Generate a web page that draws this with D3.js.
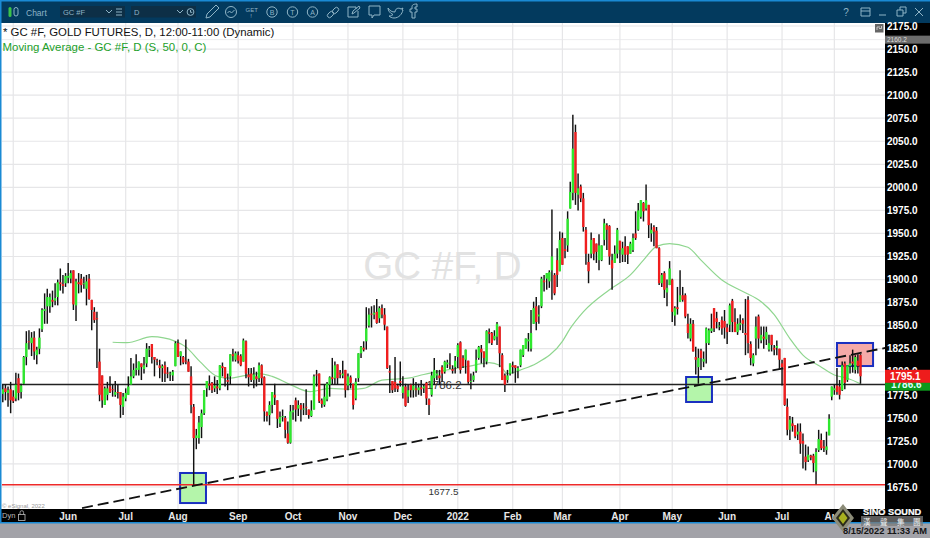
<!DOCTYPE html>
<html><head><meta charset="utf-8">
<script src="https://cdnjs.cloudflare.com/ajax/libs/d3/7.8.5/d3.min.js"></script>
<style>html,body{margin:0;padding:0;background:#fff}svg{display:block;font-family:"Liberation Sans",Arial,sans-serif}</style>
</head><body><svg id="c" width="930" height="538"></svg>
<script>
// Daily bars as [open, high, low, close]
const barsSpring2021 = [
[1776,1786,1767,1781],[1782,1786,1769,1778],[1777,1784,1762,1780],[1781,1789,1755,1769],[1773,1780,1766,1768],
[1771,1799,1768,1786],[1793,1798,1769,1777],[1778,1787,1771,1785],[1787,1817,1786,1816],[1816,1844,1807,1831],
[1833,1845,1824,1832],[1831,1843,1817,1837],[1837,1844,1813,1822],[1818,1827,1808,1824],[1825,1847,1819,1837],
[1846,1869,1843,1867],[1866,1885,1852,1868],[1871,1890,1852,1881],[1871,1885,1864,1881],[1878,1888,1870,1876],
[1877,1896,1872,1880],[1881,1900,1872,1897],[1897,1912,1888,1895],[1895,1905,1885,1893],[1896,1907,1892,1904],
[1902,1918,1896,1904],[1901,1910,1896,1907],[1910,1910,1867,1873],[1872,1901,1855,1898],[1897,1907,1885,1895],
[1901,1906,1886,1894],[1895,1903,1890,1896],[1890,1905,1872,1898],[1901,1906,1878,1879],[1878,1878,1845,1867],
[1865,1870,1853,1856],[1858,1865,1804,1857]];
const barsSummer2021 = [
[1811,1825,1768,1775],[1796,1796,1761,1769],[1764,1784,1764,1782],[1775,1789,1769,1782],[1784,1795,1777,1778],
[1781,1786,1773,1780],[1775,1790,1773,1778],[1778,1786,1771,1777],[1778,1778,1750,1764],[1762,1777,1753,1773],
[1771,1782,1768,1777],[1775,1795,1775,1784],[1786,1815,1786,1795],[1795,1809,1793,1802],[1802,1819,1796,1804],
[1802,1811,1796,1811],[1809,1809,1791,1805],[1803,1816,1798,1807],[1809,1831,1805,1825],[1824,1828,1816,1825],
[1830,1830,1809,1816],[1816,1816,1795,1813],[1812,1814,1807,1811],[1807,1813,1793,1804],[1804,1808,1789,1806],
[1807,1811,1789,1798],[1799,1805,1793,1798],[1797,1800,1790,1798],[1796,1802,1790,1800],[1806,1833,1806,1831],
[1831,1835,1816,1816],[1817,1822,1807,1822],[1816,1817,1808,1810],[1812,1835,1808,1811],[1811,1814,1800,1800],
[1795,1806,1755,1764],[1762,1765,1677.5,1728],[1728,1738,1716,1731],[1728,1752,1722,1745],[1740,1759,1728,1755],
[1755,1780,1753,1780],[1782,1790,1773,1790],[1787,1796,1780,1785],[1788,1789,1777,1780],[1782,1795,1778,1785],
[1784,1791,1776,1782],[1782,1807,1780,1807],[1806,1810,1795,1804],[1805,1805,1784,1793],[1791,1798,1780,1789],
[1795,1819,1786,1819],[1819,1825,1811,1817],[1813,1822,1811,1820],[1818,1822,1809,1812],[1817,1819,1806,1807]];
const barsAutumn2021 = [
[1811,1836,1811,1834],[1833,1834,1793,1798],[1797,1804,1784,1794],[1798,1804,1789,1791],[1791,1805,1782,1797],
[1795,1800,1784,1792],[1793,1810,1789,1807],[1807,1808,1786,1793],[1794,1795,1746,1757],[1756,1757,1746,1752],
[1753,1768,1742,1764],[1764,1778,1755,1778],[1775,1787,1764,1772],[1769,1769,1739,1749],[1744,1757,1740,1751],
[1751,1759,1746,1752],[1750,1752,1728,1737],[1733,1746,1722,1723],[1723,1764,1722,1757],[1756,1764,1748,1758],
[1769,1772,1746,1759],[1760,1769,1752,1764],[1764,1766,1746,1759],[1759,1766,1753,1760],[1762,1781,1753,1761],
[1759,1759,1749,1753],[1752,1769,1751,1758],[1759,1797,1759,1795],[1797,1802,1784,1796],[1798,1798,1766,1768],
[1769,1771,1761,1765],[1764,1786,1762,1773],[1770,1789,1768,1787],[1786,1795,1773,1794],[1794,1815,1786,1792],
[1793,1811,1786,1807],[1808,1808,1786,1793],[1799,1802,1793,1797],[1796,1812,1793,1798],[1802,1802,1772,1780],
[1785,1798,1780,1795],[1794,1796,1782,1788],[1787,1787,1759,1764],[1771,1793,1769,1789],[1793,1820,1789,1820],
[1820,1828,1815,1827],[1826,1833,1822,1824],[1833,1870,1824,1847],[1850,1869,1848,1862],[1863,1871,1848,1862],
[1862,1872,1857,1864],[1865,1879,1852,1853],[1858,1871,1853,1869],[1869,1873,1858,1862],[1862,1869,1845,1851]];
const barsWinter2021 = [
[1849,1849,1803,1804],[1801,1807,1777,1799],[1790,1790,1777,1780],[1789,1816,1778,1782],[1785,1787,1778,1781],
[1790,1811,1784,1788],[1777,1795,1771,1784],[1784,1787,1762,1763],[1773,1786,1766,1780],[1786,1787,1772,1780],
[1780,1793,1772,1785],[1782,1789,1773,1780],[1780,1787,1775,1783],[1783,1791,1774,1781],[1782,1786,1777,1784],
[1788,1789,1764,1771],[1770,1771,1753,1764],[1775,1800,1773,1796],[1793,1815,1786,1802],[1796,1802,1791,1798],
[1796,1802,1786,1793],[1805,1807,1789,1798],[1800,1812,1798,1811],[1808,1813,1804,1810],[1807,1820,1803,1806],
[1803,1807,1798,1801],[1805,1817,1798,1812],[1816,1831,1804,1829],[1832,1833,1798,1802],[1815,1818,1804,1806],
[1813,1824,1798,1824],[1812,1812,1787,1789],[1789,1798,1781,1790],[1791,1800,1789,1796],[1801,1824,1799,1813],
[1815,1828,1813,1827]];
const barsEarly2022 = [
[1825,1829,1809,1821],[1822,1822,1805,1815],[1811,1845,1808,1844],[1843,1847,1831,1841],[1842,1843,1829,1831],
[1835,1845,1834,1839],[1838,1854,1829,1852],[1849,1849,1805,1820],[1818,1820,1791,1791],[1796,1798,1778,1786],
[1791,1802,1788,1796],[1798,1809,1796,1809],[1807,1811,1798,1805],[1807,1807,1788,1804],[1801,1806,1793,1804],
[1807,1824,1805,1824],[1818,1829,1816,1829],[1825,1836,1825,1836],[1833,1842,1822,1835],[1825,1867,1822,1842],
[1852,1876,1852,1869],[1871,1881,1845,1854],[1860,1872,1852,1862],[1871,1903,1869,1901],[1899,1905,1887,1897],
[1901,1907,1889,1907],[1898,1910,1891,1908],[1910,1976,1878,1925],[1905,1907,1883,1885],[1921,1934,1892,1905],
[1909,1952,1909,1943],[1945,1951,1916,1916],[1933,1945,1923,1931],[1937,1974,1930,1966],[1977,2006,1977,1995],
[1994,2078.8,1986,2042],[2060,2068,1981,1994],[1992,2015,1975,1999],[2001,2003,1984,1988],[1988,1994,1952,1957],
[1954,1957,1916,1928],[1919,1928,1896,1909],[1928,1951,1923,1943],[1945,1945,1921,1928],[1939,1939,1918,1930],
[1921,1949,1910,1937],[1921,1937,1920,1937],[1943,1966,1937,1961],[1959,1961,1932,1954],[1958,1959,1916,1925],
[1921,1928,1889,1912],[1918,1937,1918,1928],[1928,1956,1923,1954],[1942,1942,1918,1932],[1927,1941,1919,1934],
[1936,1947,1919,1927],[1936,1936,1917,1927],[1928,1941,1928,1939],[1932,1950,1930,1945],[1950,1974,1943,1945],
[1954,1983,1953,1975],[1968,1986,1966,1986],[1983,1984,1963,1974],[1977,2003,1975,1986],[1981,1981,1945,1959],
[1950,1961,1941,1954],[1957,1959,1936,1952],[1953,1957,1934,1934],[1934,1935,1894,1896],[1896,1907,1892,1905],
[1907,1909,1880,1889],[1886,1900,1871,1891],[1894,1920,1894,1912],[1900,1901,1854,1865],[1861,1871,1850,1869],
[1870,1892,1862,1868],[1876,1910,1876,1883],[1883,1892,1876,1878],[1883,1885,1858,1860],[1852,1863,1836,1842],
[1836,1858,1833,1852],[1852,1856,1822,1822]];
const barsMid2022 = [
[1816,1827,1797,1813],[1805,1825,1787,1815],[1823,1825,1802,1815],[1811,1822,1805,1814],[1831,1848,1809,1847],
[1831,1847,1829,1845],[1844,1863,1842,1847],[1869,1869,1843,1847],[1858,1865,1847,1854],[1849,1854,1845,1850],
[1856,1860,1840,1847],[1855,1867,1836,1848],[1848,1852,1830,1843],[1851,1874,1843,1872],[1877,1879,1843,1854],
[1854,1869,1843,1843],[1843,1858,1840,1852],[1851,1862,1845,1853],[1856,1858,1842,1852],[1842,1879,1818,1840],
[1878,1882,1820,1831],[1830,1833,1807,1815],[1809,1820,1806,1818],[1836,1860,1818,1849],[1860,1862,1825,1836],
[1834,1849,1831,1840],[1838,1849,1825,1836],[1835,1849,1829,1843],[1824,1840,1822,1831],[1840,1840,1822,1829],
[1826,1829,1818,1824],[1826,1834,1818,1828],[1825,1825,1803,1813],[1809,1813,1785,1805],[1815,1815,1763,1764],
[1762,1771,1731,1737],[1737,1752,1726,1748],[1744,1751,1735,1741],[1742,1742,1728,1730],[1732,1744,1726,1735],
[1735,1744,1711,1722],[1725,1733,1695,1722],[1708,1721,1693,1702],[1704,1719,1702,1710],[1709,1710,1704,1707],
[1709,1711,1691,1701],[1692,1717,1678,1713],[1715,1737,1713,1727],[1726,1733,1715,1717],[1719,1726,1713,1717],
[1715,1735,1710,1719],[1731,1754,1731,1749]];
const barsAug2022 = [
[1773,1784,1769,1784],[1780,1786,1775,1782],[1785,1804,1775,1778],[1784,1791,1770,1775],[1780,1811,1779,1807],
[1809,1811,1781,1788],[1791,1807,1789,1807],[1806,1818,1798,1809],[1811,1824,1799,1809],[1802,1818,1798,1816],
[1812,1819,1798,1806],[1818,1819,1787,1795.1]];
const bars = [...barsSpring2021,...barsSummer2021,...barsAutumn2021,...barsWinter2021,...barsEarly2022,...barsMid2022,...barsAug2022];

// 50-day moving average, sampled where it could be read
const maBar = [42,47.5,57,66,70,75.4,82,87,91,98,103,110,117.5,125,133,138,145,155,161,170,180,186,190,193,199,204,214,217,222,232,240,245,250,255,262,267,275,283,290,295,301,306,312.5,318,323,328];
const maPrice = [1832,1831.5,1838,1833,1827,1811,1795,1793,1795,1798,1795,1786,1778.5,1782,1781,1782,1791,1793,1797,1802,1807,1810,1807,1798,1803,1809,1833,1847,1865,1889,1905,1921,1936,1939,1935,1921,1899.5,1887,1876,1862,1836,1818,1806,1796.5,1793,1787];

const monthLabels = ["Jun","Jul","Aug","Sep","Oct","Nov","Dec","2022","Feb","Mar","Apr","May","Jun","Jul","Aug"];
const monthBars   = [25,47,67,90,111,132,153,174,195,214,236,256,277,298,318];
const firstGridBar = 4;

const priceTicks = d3.range(1675,2176,25);
const supportLevel = 1786.2, floorLevel = 1677.5, lastClose = 1795.1, maLast = 1786.6, topMarker = 2160.2;
const trendBars = [30.3,337.4], trendPrices = [1652.2,1825.8];
const zones = [
 {b0:67.8,b1:77.7,p0:1690.2,p1:1657.6,fill:"#b4f5aa"},
 {b0:261.3,b1:271.2,p0:1794.3,p1:1767.2,fill:"#b4f5aa"},
 {b0:319,b1:332.8,p0:1831.2,p1:1806.2,fill:"#f6aaa8"}];

const W=930,H=538,L=2,R=885,T=23,B=509;
const svg=d3.select("#c");
const x=d3.scaleLinear().domain([0,328]).range([2.8,860.5]);
const y=d3.scaleLinear().domain([1675,2175]).range([487,26]);

svg.append("defs").append("clipPath").attr("id","plot").append("rect").attr("x",L).attr("y",T).attr("width",R-L).attr("height",B-T);
svg.append("rect").attr("width",W).attr("height",H).attr("fill","#fff");

// grid
const g=svg.append("g").attr("clip-path","url(#plot)");
g.selectAll(".hg").data(priceTicks).join("line").attr("x1",L).attr("x2",R).attr("y1",d=>y(d)).attr("y2",d=>y(d)).attr("stroke","#e6e6e8").attr("stroke-width",1.2);
g.append("line").attr("x1",L).attr("x2",R).attr("y1",y(topMarker)).attr("y2",y(topMarker)).attr("stroke","#ececee");
g.selectAll(".vg").data([firstGridBar,...monthBars]).join("line").attr("x1",d=>x(d)).attr("x2",d=>x(d)).attr("y1",T).attr("y2",B).attr("stroke","#e6e6e8").attr("stroke-width",1.2);

// watermark
svg.append("text").attr("x",442.5).attr("y",279).attr("text-anchor","middle").attr("font-size",38.5).attr("fill","#e2e2e2").text("GC #F, D");

// zones
g.selectAll(".zone").data(zones).join("rect")
 .attr("x",d=>x(d.b0)).attr("width",d=>x(d.b1)-x(d.b0)).attr("y",d=>y(d.p0)).attr("height",d=>y(d.p1)-y(d.p0))
 .attr("fill",d=>d.fill).attr("stroke","#1a2fc0").attr("stroke-width",2);

// moving average
g.append("path").attr("fill","none").attr("stroke","#8fd68f").attr("stroke-width",1.2)
 .attr("d",d3.line().x((d,i)=>x(maBar[i])).y(d=>y(d)).curve(d3.curveMonotoneX)(maPrice));

// horizontal levels
g.append("line").attr("x1",L).attr("x2",R).attr("y1",y(supportLevel)).attr("y2",y(supportLevel)).attr("stroke","#222").attr("stroke-width",1.6);
g.append("line").attr("x1",L).attr("x2",R).attr("y1",y(floorLevel)).attr("y2",y(floorLevel)).attr("stroke","#ee2a2a").attr("stroke-width",1.6);

// bars
const bg=g.append("g");
bg.selectAll("line").data(bars).join("line")
 .attr("x1",(d,i)=>x(i)).attr("x2",(d,i)=>x(i)).attr("y1",d=>y(d[1])).attr("y2",d=>y(d[2]))
 .attr("stroke","#111").attr("stroke-width",1.45);
bg.selectAll("rect").data(bars).join("rect")
 .attr("x",(d,i)=>x(i)-1.2).attr("width",2.4)
 .attr("y",d=>y(Math.max(d[0],d[3]))).attr("height",d=>Math.max(0.6,Math.abs(y(d[0])-y(d[3]))))
 .attr("fill",d=>d[3]>=d[0]?"#2ee82e":"#f01e1e");

// trend line
g.append("line").attr("x1",x(trendBars[0])).attr("x2",x(trendBars[1])).attr("y1",y(trendPrices[0])).attr("y2",y(trendPrices[1]))
 .attr("stroke","#111").attr("stroke-width",1.8).attr("stroke-dasharray","11 5");

// level labels
svg.append("text").attr("x",444).attr("y",389).attr("text-anchor","middle").attr("font-size",11.5).attr("fill","#333").text(supportLevel.toFixed(1));
svg.append("text").attr("x",443.5).attr("y",495).attr("text-anchor","middle").attr("font-size",9.8).attr("fill","#333").text(floorLevel.toFixed(1));

// legend
svg.append("text").attr("x",3).attr("y",35.5).attr("font-size",11.4).attr("fill","#111").text("* GC #F, GOLD FUTURES, D, 12:00-11:00 (Dynamic)");
svg.append("text").attr("x",2.5).attr("y",51).attr("font-size",11.45).attr("fill","#22a02a").text("Moving Average - GC #F, D (S, 50, 0, C)");
svg.append("text").attr("x",2).attr("y",508).attr("font-size",6).attr("fill","#999").text("© eSignal, 2022");

// frame
svg.append("rect").attr("x",R).attr("y",T).attr("width",W-R).attr("height",522-T).attr("fill","#000");
svg.append("rect").attr("x",0).attr("y",B).attr("width",W).attr("height",13).attr("fill","#000");
svg.append("rect").attr("x",0).attr("y",522).attr("width",W).attr("height",16).attr("fill","#a2a2a8");
svg.append("rect").attr("x",0).attr("y",522).attr("width",W).attr("height",1.5).attr("fill","#1a8ad4");
svg.append("rect").attr("x",0).attr("y",0).attr("width",W).attr("height",23).attr("fill","#033a5e");
svg.append("rect").attr("x",0).attr("y",0).attr("width",W).attr("height",1.5).attr("fill","#1a8ad4");
svg.append("rect").attr("x",0).attr("y",0).attr("width",1.5).attr("height",522).attr("fill","#1a8ad4");

// price axis
const axisG=svg.append("g").attr("transform",`translate(${R},0)`);
axisG.call(d3.axisRight(y).tickValues(priceTicks).tickSize(0).tickPadding(2).tickFormat(d3.format(".1f")));
axisG.select(".domain").remove();
axisG.selectAll("text").attr("fill","#fff").attr("font-size",10).attr("font-weight","bold").attr("font-family","Liberation Sans");

// marker labels on the axis
svg.append("rect").attr("x",R).attr("y",y(topMarker)-4).attr("width",W-R).attr("height",8).attr("fill","#6c6c6c");
svg.append("text").attr("x",R+2).attr("y",y(topMarker)+2.5).attr("font-size",6.5).attr("fill","#ddd").text(topMarker.toFixed(1));
svg.append("rect").attr("x",R).attr("y",y(maLast)-4).attr("width",W-R).attr("height",10.6).attr("fill","#0c9a1c");
svg.append("text").attr("x",R+6).attr("y",y(maLast)+4).attr("font-size",10).attr("font-weight","bold").attr("fill","#dff").text(maLast.toFixed(1));
svg.append("rect").attr("x",R).attr("y",y(lastClose)-6.5).attr("width",W-R).attr("height",13).attr("fill","#ee1c1c");
svg.append("text").attr("x",R+5).attr("y",y(lastClose)+3.8).attr("font-size",10).attr("font-weight","bold").attr("fill","#fff").text(lastClose.toFixed(1));
svg.append("rect").attr("x",875).attr("y",24).attr("width",8.5).attr("height",8.5).attr("fill","#666");
svg.append("path").attr("d","M877 30v-3h3M879 28.5h2.5v-2.5").attr("fill","none").attr("stroke","#ddd").attr("stroke-width",.8);

// time axis
svg.selectAll(".mt").data(monthLabels).join("text").attr("x",(d,i)=>x(monthBars[i])).attr("y",519.5).attr("text-anchor","middle")
 .attr("font-size",10).attr("font-weight","bold").attr("fill","#e8e8e8").text(d=>d);
svg.append("text").attr("x",2).attr("y",518).attr("font-size",7.5).attr("fill","#bbb").text("Dyn");
svg.append("rect").attr("x",18.5).attr("y",514.5).attr("width",6.5).attr("height",6).attr("fill","none").attr("stroke","#bbb").attr("stroke-width",.8);
svg.append("path").attr("d","M20 514.5v-2a1.8 1.8 0 0 1 3.6 0v2").attr("fill","none").attr("stroke","#bbb").attr("stroke-width",.8);

// toolbar
const tb=svg.append("g");
const tc="#8fb4c6";
tb.append("rect").attr("x",8.5).attr("y",7).attr("width",3).attr("height",10).attr("rx",1.5).attr("fill","#3bc24a");
tb.append("rect").attr("x",14).attr("y",7.5).attr("width",4).attr("height",8.5).attr("rx",2).attr("fill","none").attr("stroke",tc);
tb.append("text").attr("x",26).attr("y",15.5).attr("font-size",8.5).attr("fill",tc).text("Chart");
tb.append("rect").attr("x",60).attr("y",6).attr("width",65).attr("height",11.5).attr("fill","#0d2f46");
tb.append("rect").attr("x",131).attr("y",6).attr("width",65).attr("height",11.5).attr("fill","#0d2f46");
tb.append("text").attr("x",63).attr("y",15).attr("font-size",7.5).attr("fill",tc).text("GC #F");
tb.append("text").attr("x",134).attr("y",15).attr("font-size",7.5).attr("fill",tc).text("D");
const icon=(d)=>tb.append("path").attr("d",d).attr("fill","none").attr("stroke",tc).attr("stroke-width",1);
icon("M106 10l3 3 3-3"); icon("M177 10l3 3 3-3");
icon("M116 9h6M116 12h6M116 15h6");
tb.append("circle").attr("cx",190.5).attr("cy",12).attr("r",3.4).attr("fill","none").attr("stroke",tc);
icon("M190.5 10v2.3h1.8");
icon("M206 18l1-4 9-9 3 3-9 9z");
tb.append("circle").attr("cx",231).attr("cy",12).attr("r",5.5).attr("fill","none").attr("stroke",tc);
icon("M227.5 13l2-2 2 2 3-3");
tb.append("text").attr("x",245.5).attr("y",11.5).attr("font-size",6).attr("fill",tc).text("GET");
tb.append("text").attr("x",251).attr("y",17.5).attr("font-size",6).attr("text-anchor","middle").attr("fill",tc).text("!");
[["B",272],["T",292.5],["A",312.5]].forEach(([s,cx])=>{
 tb.append("circle").attr("cx",cx).attr("cy",12).attr("r",5.2).attr("fill","none").attr("stroke",tc);
 tb.append("text").attr("x",cx).attr("y",14.7).attr("font-size",7).attr("text-anchor","middle").attr("fill",tc).text(s);
});
icon("M328 14a2 2 0 1 0 3 3l2-2a2 2 0 1 0-3-3zM333 10a2 2 0 1 0 3 3l2-2a2 2 0 1 0-3-3z");
icon("M348 7h8v2M348 7v10h10v-6M352 14l1-3 6-5 1 2-6 5z");
icon("M369 6h11v9h-6l-2 3v-3h-3z");
icon("M388 8c2 3 4 4 7 4 0-3 3-5 6-3l2-1-1 2 1 0c-1 4-4 8-9 8-2 0-4-1-5-2 2 0 3-.5 4-1.5-3-1-5-4-5-6.500z");
icon("M412 18v-6h-2v-3h2v-2c0-2 1-3 5-3v3h-2v2h2v3h-2v6z");
tb.append("text").attr("x",846).attr("y",16).attr("font-size",10).attr("text-anchor","middle").attr("fill",tc).text("?");
icon("M861 8h9v8h-9zM861 11h9");
icon("M879 15h7");
icon("M897 10h6v6h-6zM900 10v-3h6v6h-3");
icon("M915 8l8 8M923 8l-8 8");

// logo overlay
const logo=svg.append("g");
logo.append("path").attr("d","M843 504l11 14-11 14-11-14z").attr("fill","#8c8c78");
logo.append("path").attr("d","M843 509l7 9-7 9-7-9z").attr("fill","#2a2a18");
logo.append("path").attr("d","M843 512l4.500 6-4.500 6-4.500-6z").attr("fill","#a8b020");
svg.append("rect").attr("x",861).attr("y",516).attr("width",62).attr("height",10).attr("fill","#7a7a7a").attr("opacity",.75);
svg.append("text").attr("x",863).attr("y",515).attr("font-size",9.2).attr("font-weight","bold").attr("fill","#fff").attr("stroke","#fff").attr("stroke-width",.2).text("SINO SOUND");
svg.append("text").attr("x","863 880 897 913").attr("y",525).attr("font-size",7.5).attr("font-family","Noto Sans CJK TC").attr("fill","#f2f2f2").text("漢聲集團");
svg.append("text").attr("x",843).attr("y",533.5).attr("font-size",9.3).attr("font-weight","bold").attr("fill","#151515").text("8/15/2022 11:33 AM");
</script></body></html>
